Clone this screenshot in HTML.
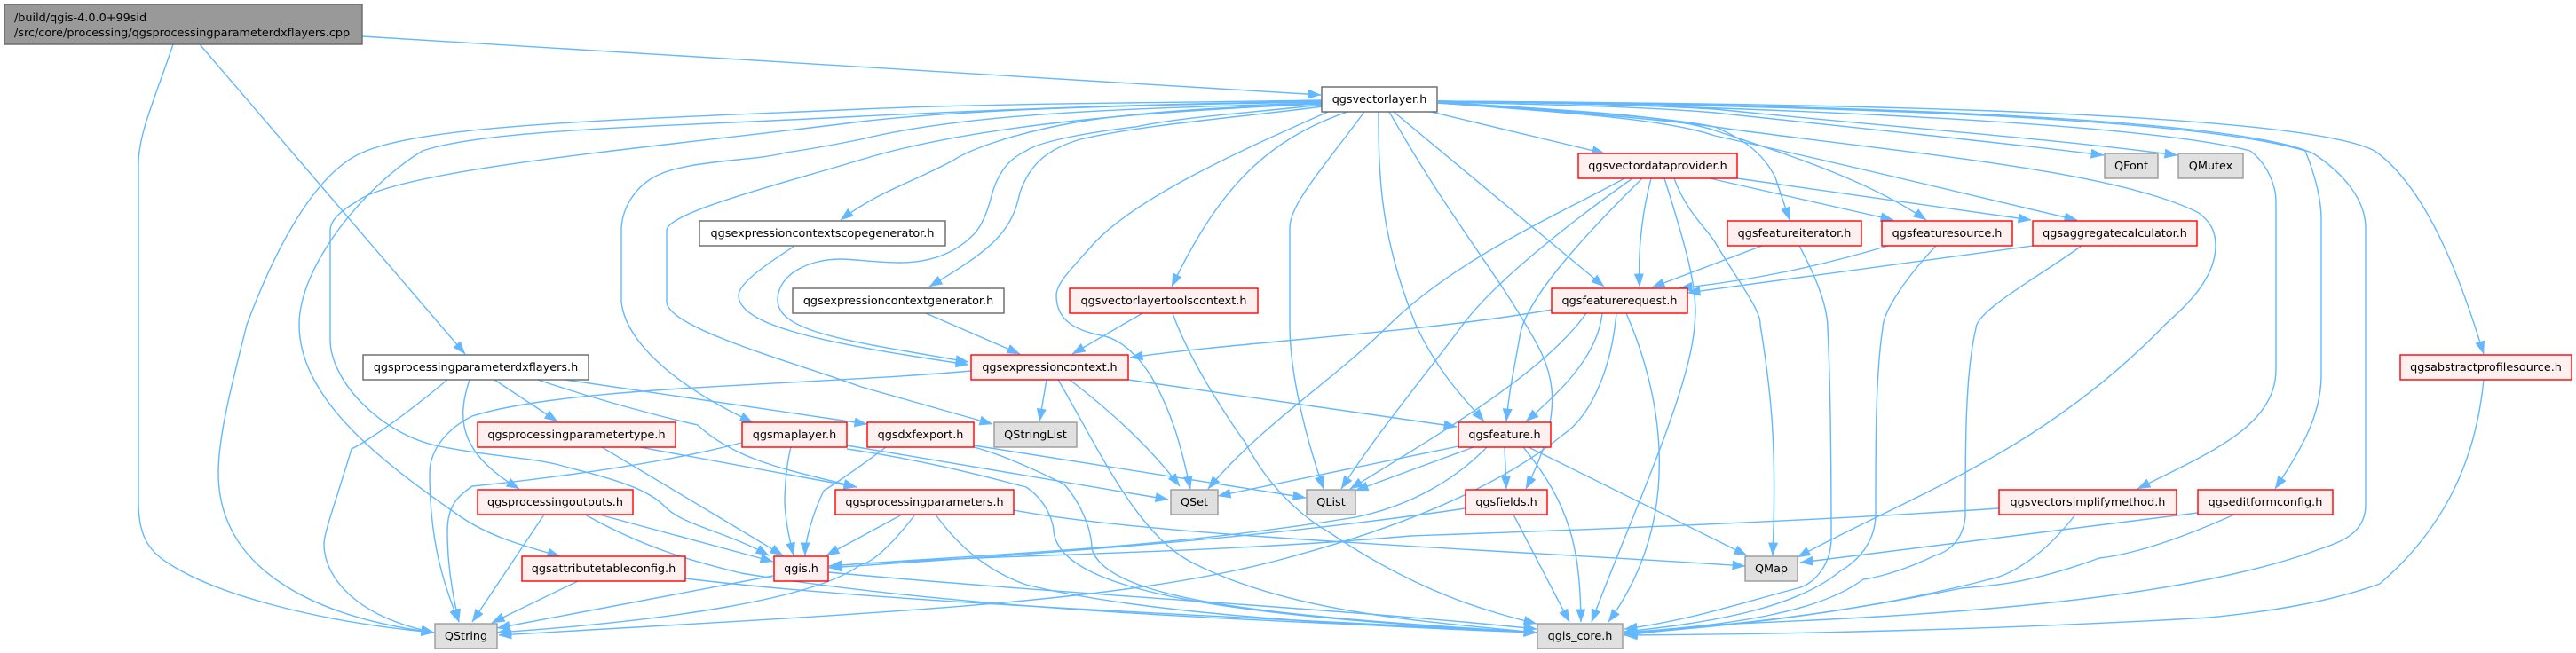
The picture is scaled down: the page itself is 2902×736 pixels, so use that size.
<!DOCTYPE html>
<html><head><meta charset="utf-8"><title>qgsprocessingparameterdxflayers.cpp include graph</title>
<style>
html,body{margin:0;padding:0;background:#fff}
svg{display:block}
text{font-family:"DejaVu Sans",sans-serif;font-size:12.8px;fill:#000;text-anchor:middle}
.e path{fill:none;stroke:#63b8ff;stroke-width:1.4;marker-end:url(#a)}
.w{fill:#fff;stroke:#666;stroke-width:1.4}
.r{fill:#fff0f0;stroke:#f00;stroke-width:1.4}
.g{fill:#e0e0e0;stroke:#999;stroke-width:1.4}
.k{fill:#999;stroke:#666;stroke-width:1.4}
</style></head><body>
<svg xmlns="http://www.w3.org/2000/svg" width="2902" height="736" viewBox="0 0 2902 736">
<defs><marker id="a" markerUnits="userSpaceOnUse" markerWidth="15" markerHeight="11" refX="14.5" refY="5.5" orient="auto"><path d="M0,0L15,5.500L0,11z" fill="#63b8ff"/></marker></defs>
<g class="e">
<!-- root -->
<path d="M408,41L1488,107"/>
<path d="M195,50C175,110 156,150 156,185L156,566C156,600 165,620 190,635C240,668 350,700 489,713"/>
<path d="M225,50L524,399"/>
<!-- vectorlayer left -->
<path d="M1490,113C1300,116 1100,117 970,123C700,135 480,140 408,172C355,195 310,280 278,366C262,430 246,490 246,533C246,640 350,695 489,713"/>
<path d="M1490,114C1250,118 1100,125 970,131C750,143 550,145 476,170C410,210 337,300 337,366C337,450 430,520 514,579C550,605 590,615 631,627"/>
<path d="M1490,115C1300,118 1100,122 970,137C750,165 450,190 402,227C380,240 372,250 372,260L372,383C372,430 430,490 495,503C560,516 600,515 637,526C690,540 730,550 750,572C770,592 820,600 866,626"/>
<path d="M1490,116C1300,122 1100,125 970,157C930,165 900,170 885,172C850,182 770,180 736,200C715,212 700,235 700,260L700,340C704,380 750,430 848,476"/>
<path d="M1490,117C1300,125 1100,140 970,180C870,210 751,240 751,260L751,340C751,370 900,410 970,436L1118,478"/>
<path d="M1490,117C1400,120 1290,125 1217,137C1140,150 1090,170 1075,180C1030,205 990,215 947,248"/>
<path d="M1490,118C1400,128 1330,132 1279,143C1220,150 1170,160 1156,170C1135,180 1125,195 1118,217C1110,250 1100,262 1094,267C1070,290 1040,296 1013,296C990,296 960,292 947,292C910,292 876,310 876,338C876,375 960,385 1091,408"/>
<path d="M1490,120C1400,132 1290,140 1217,157C1180,168 1160,185 1149,217C1140,260 1120,280 1047,323"/>
<path d="M1518,126C1420,160 1370,220 1320,323"/>
<path d="M1496,126C1420,160 1280,220 1230,277C1205,305 1190,320 1190,333C1190,360 1210,372 1240,378C1265,382 1285,405 1298,426C1320,465 1330,500 1341,551"/>
<path d="M1537,126C1490,190 1453,230 1453,257L1453,366C1453,420 1470,490 1491,551"/>
<path d="M1553,126C1553,200 1555,267 1595,366C1620,420 1650,450 1672,475"/>
<path d="M1565,126C1630,240 1680,300 1719,366C1745,410 1770,450 1719,551"/>
<path d="M1570,126L1807,323"/>
<path d="M1612,126L1808,173"/>
<!-- vectorlayer right -->
<path d="M1620,115C1750,125 1870,130 1932,143C1960,155 1985,170 2000,200L2016,248"/>
<path d="M1620,115C1780,125 1880,130 1932,147C2000,170 2100,200 2170,248"/>
<path d="M1620,116C1780,128 1880,135 1932,153C2100,190 2240,225 2340,248"/>
<path d="M1620,116C1750,125 1850,132 1932,143C2120,170 2380,190 2477,240C2490,250 2496,260 2496,277C2496,320 2450,355 2439,366C2300,510 2150,560 2025,628"/>
<path d="M1620,115C1750,118 1850,120 1932,127C2100,145 2250,160 2370,175"/>
<path d="M1620,114C1750,116 1850,118 1932,123C2150,145 2300,155 2453,175"/>
<path d="M1620,114C1900,118 2400,135 2535,170C2555,185 2564,210 2564,227L2564,416C2564,480 2490,510 2408,551"/>
<path d="M1620,114C1900,118 2450,125 2597,170C2605,190 2615,220 2615,247L2615,423C2615,470 2590,510 2563,551"/>
<path d="M1620,114C1900,116 2500,125 2606,173C2640,195 2665,225 2665,257L2665,569C2665,600 2640,610 2613,619C2450,680 2150,695 1932,704L1830,716"/>
<path d="M1620,114C1900,116 2580,120 2675,170C2740,215 2780,340 2798,399"/>
<!-- dxflayers -->
<path d="M504,428C430,490 396,506 396,506C380,560 365,600 365,613C365,650 400,695 489,713"/>
<path d="M529,428C515,470 515,510 585,551"/>
<path d="M557,428L628,475"/>
<path d="M606,428C700,460 786,479 786,479C830,520 890,530 965,549"/>
<path d="M637,428L977,478"/>
<path d="M678,504L882,626"/>
<path d="M721,504L965,549"/>
<!-- outputs -->
<path d="M613,580L532,701"/>
<path d="M675,580L871,633"/>
<path d="M659,580C730,620 790,635 835,646C1100,690 1450,700 1731,713"/>
<path d="M651,655L554,702"/>
<path d="M772,652C1000,680 1400,695 1731,713"/>
<path d="M871,649L560,708"/>
<path d="M933,645C1200,670 1500,685 1731,709"/>
<!-- maplayer -->
<path d="M835,499C720,530 532,548 532,548C515,560 504,570 504,599C504,640 512,680 517,701"/>
<path d="M891,504C884,530 884,566 884,566C885,590 890,610 894,626"/>
<path d="M954,502L1316,563"/>
<path d="M954,506C1050,520 1120,540 1156,549C1180,565 1187,590 1187,599C1195,670 1400,695 1731,713"/>
<!-- dxfexport -->
<path d="M998,504C950,540 928,553 928,553C915,580 907,610 907,626"/>
<path d="M1097,502L1471,561"/>
<path d="M1097,504C1140,515 1199,546 1199,546C1220,570 1230,600 1230,619C1250,680 1450,695 1731,713"/>
<!-- parameters -->
<path d="M1016,580L931,626"/>
<path d="M1031,580C1000,620 980,635 970,636C920,675 750,700 560,713"/>
<path d="M1054,580C1090,630 1130,650 1156,659C1280,690 1500,705 1731,713"/>
<path d="M1142,575C1300,605 1700,620 1966,638"/>
<!-- expression -->
<path d="M894,278C860,300 832,320 832,333C832,370 950,390 1091,411"/>
<path d="M1043,353L1149,399"/>
<path d="M1287,353L1208,399"/>
<path d="M1321,353C1345,420 1403,499 1403,499C1440,570 1496,599 1496,599C1600,670 1680,690 1731,703"/>
<path d="M1748,349C1600,375 1400,385 1273,403"/>
<path d="M1805,353C1800,400 1760,440 1719,475"/>
<path d="M1787,353C1740,420 1620,490 1521,551"/>
<path d="M1821,353C1815,420 1790,470 1762,489C1700,540 1600,590 1434,633C1250,680 1000,690 562,716"/>
<path d="M1832,353C1870,440 1900,580 1812,701"/>
<path d="M1179,428L1171,475"/>
<path d="M1271,428L1641,481"/>
<path d="M1205,428C1260,470 1300,510 1329,548"/>
<path d="M1192,428C1240,510 1280,600 1341,633C1450,690 1600,700 1731,713"/>
<path d="M1094,418C900,435 640,435 532,469C500,485 484,510 484,533C484,610 500,660 517,701"/>
<!-- feature -->
<path d="M1643,503L1372,559"/>
<path d="M1660,504L1527,553"/>
<path d="M1675,504C1640,540 1590,570 1527,583C1300,620 1100,625 934,638"/>
<path d="M1695,504L1697,551"/>
<path d="M1716,504C1770,570 1780,620 1781,701"/>
<path d="M1722,504L1968,626"/>
<path d="M1651,573C1400,610 1150,625 934,640"/>
<path d="M1705,580L1768,701"/>
<!-- provider -->
<path d="M1830,201C1770,235 1640,290 1561,370C1500,430 1420,480 1361,551"/>
<path d="M1839,201C1770,250 1680,320 1645,370C1600,430 1550,490 1511,551"/>
<path d="M1850,201C1780,270 1717,340 1712,380C1705,420 1700,440 1697,475"/>
<path d="M1860,201C1850,240 1845,280 1847,323"/>
<path d="M1875,201C1900,280 1914,330 1909,366C1905,440 1830,600 1793,701"/>
<path d="M1886,201C1900,240 1925,260 1932,273C1960,320 1984,350 1983,366C1995,440 2002,500 1997,626"/>
<path d="M1926,201L2133,248"/>
<path d="M1957,201L2288,248"/>
<!-- feature source/iterator/aggregate -->
<path d="M1985,277L1861,324"/>
<path d="M2027,277C2050,320 2059,350 2059,370C2063,450 2063,560 2063,606C2063,640 2040,660 2025,663C1960,680 1900,700 1830,709"/>
<path d="M2127,277C2050,300 1980,315 1892,325"/>
<path d="M2181,277C2150,310 2121,350 2121,370C2113,420 2113,500 2113,579C2113,620 2080,640 2074,643C2030,680 1950,700 1830,712"/>
<path d="M2290,277L1901,330"/>
<path d="M2345,277C2300,310 2226,350 2226,370C2214,420 2214,500 2214,583C2210,620 2180,626 2180,626C2130,650 2099,653 2099,653C2050,690 1950,705 1830,713"/>
<!-- simplify/edit/profile -->
<path d="M2252,573C2000,590 1700,600 1589,604C1350,625 1100,625 934,638"/>
<path d="M2338,580C2300,630 2260,650 2241,653C2100,690 1950,705 1830,714"/>
<path d="M2476,578L2028,634"/>
<path d="M2517,580C2450,610 2400,625 2365,629C2280,660 2240,660 2210,663C2050,695 1950,705 1830,715"/>
<path d="M2798,428C2790,510 2760,590 2681,658C2620,680 2550,690 2489,696C2250,710 2000,715 1830,716"/>
</g>
<g>
<rect class="k" x="5" y="5" width="403" height="45"/>
<text x="16" y="24" style="text-anchor:start">/build/qgis-4.0.0+99sid</text>
<text x="16" y="41" style="text-anchor:start">/src/core/processing/qgsprocessingparameterdxflayers.cpp</text>
<rect class="w" x="1489" y="98" width="130" height="28"/><text x="1554" y="116">qgsvectorlayer.h</text>
<rect class="w" x="409" y="400" width="254" height="28"/><text x="536" y="418">qgsprocessingparameterdxflayers.h</text>
<rect class="r" x="538" y="476" width="223" height="28"/><text x="649.500" y="494">qgsprocessingparametertype.h</text>
<rect class="r" x="836" y="476" width="118" height="28"/><text x="895" y="494">qgsmaplayer.h</text>
<rect class="r" x="538" y="552" width="175" height="28"/><text x="625.500" y="570">qgsprocessingoutputs.h</text>
<rect class="r" x="941" y="552" width="201" height="28"/><text x="1041.500" y="570">qgsprocessingparameters.h</text>
<rect class="r" x="588" y="627" width="184" height="28"/><text x="680" y="645">qgsattributetableconfig.h</text>
<rect class="r" x="872" y="627" width="61" height="28"/><text x="902.500" y="645">qgis.h</text>
<rect class="g" x="490" y="703" width="70" height="28"/><text x="525" y="721">QString</text>
<rect class="w" x="788" y="249" width="277" height="28"/><text x="926.500" y="267">qgsexpressioncontextscopegenerator.h</text>
<rect class="w" x="893" y="325" width="238" height="28"/><text x="1012" y="343">qgsexpressioncontextgenerator.h</text>
<rect class="r" x="1205" y="325" width="212" height="28"/><text x="1311" y="343">qgsvectorlayertoolscontext.h</text>
<rect class="r" x="1748" y="325" width="153" height="28"/><text x="1824.500" y="343">qgsfeaturerequest.h</text>
<rect class="r" x="1778" y="173" width="179" height="28"/><text x="1867.500" y="191">qgsvectordataprovider.h</text>
<rect class="g" x="2371" y="173" width="60" height="28"/><text x="2401" y="191">QFont</text>
<rect class="g" x="2454" y="173" width="73" height="28"/><text x="2490.500" y="191">QMutex</text>
<rect class="r" x="1946" y="249" width="151" height="28"/><text x="2021.500" y="267">qgsfeatureiterator.h</text>
<rect class="r" x="2120" y="249" width="147" height="28"/><text x="2193.500" y="267">qgsfeaturesource.h</text>
<rect class="r" x="2290" y="249" width="185" height="28"/><text x="2382.500" y="267">qgsaggregatecalculator.h</text>
<rect class="r" x="1094" y="400" width="177" height="28"/><text x="1182.500" y="418">qgsexpressioncontext.h</text>
<rect class="r" x="977" y="476" width="120" height="28"/><text x="1037" y="494">qgsdxfexport.h</text>
<rect class="g" x="1120" y="476" width="93" height="28"/><text x="1166.500" y="494">QStringList</text>
<rect class="g" x="1319" y="552" width="53" height="28"/><text x="1345.500" y="570">QSet</text>
<rect class="g" x="1472" y="552" width="55" height="28"/><text x="1499.500" y="570">QList</text>
<rect class="r" x="1651" y="552" width="92" height="28"/><text x="1697" y="570">qgsfields.h</text>
<rect class="r" x="1643" y="476" width="104" height="28"/><text x="1695" y="494">qgsfeature.h</text>
<rect class="g" x="1732" y="703" width="96" height="28"/><text x="1780" y="721">qgis_core.h</text>
<rect class="g" x="1966" y="627" width="59" height="28"/><text x="1995.500" y="645">QMap</text>
<rect class="r" x="2252" y="552" width="200" height="28"/><text x="2352" y="570">qgsvectorsimplifymethod.h</text>
<rect class="r" x="2476" y="552" width="152" height="28"/><text x="2552" y="570">qgseditformconfig.h</text>
<rect class="r" x="2704" y="400" width="193" height="28"/><text x="2800.500" y="418">qgsabstractprofilesource.h</text>
</g>
</svg>
</body></html>
